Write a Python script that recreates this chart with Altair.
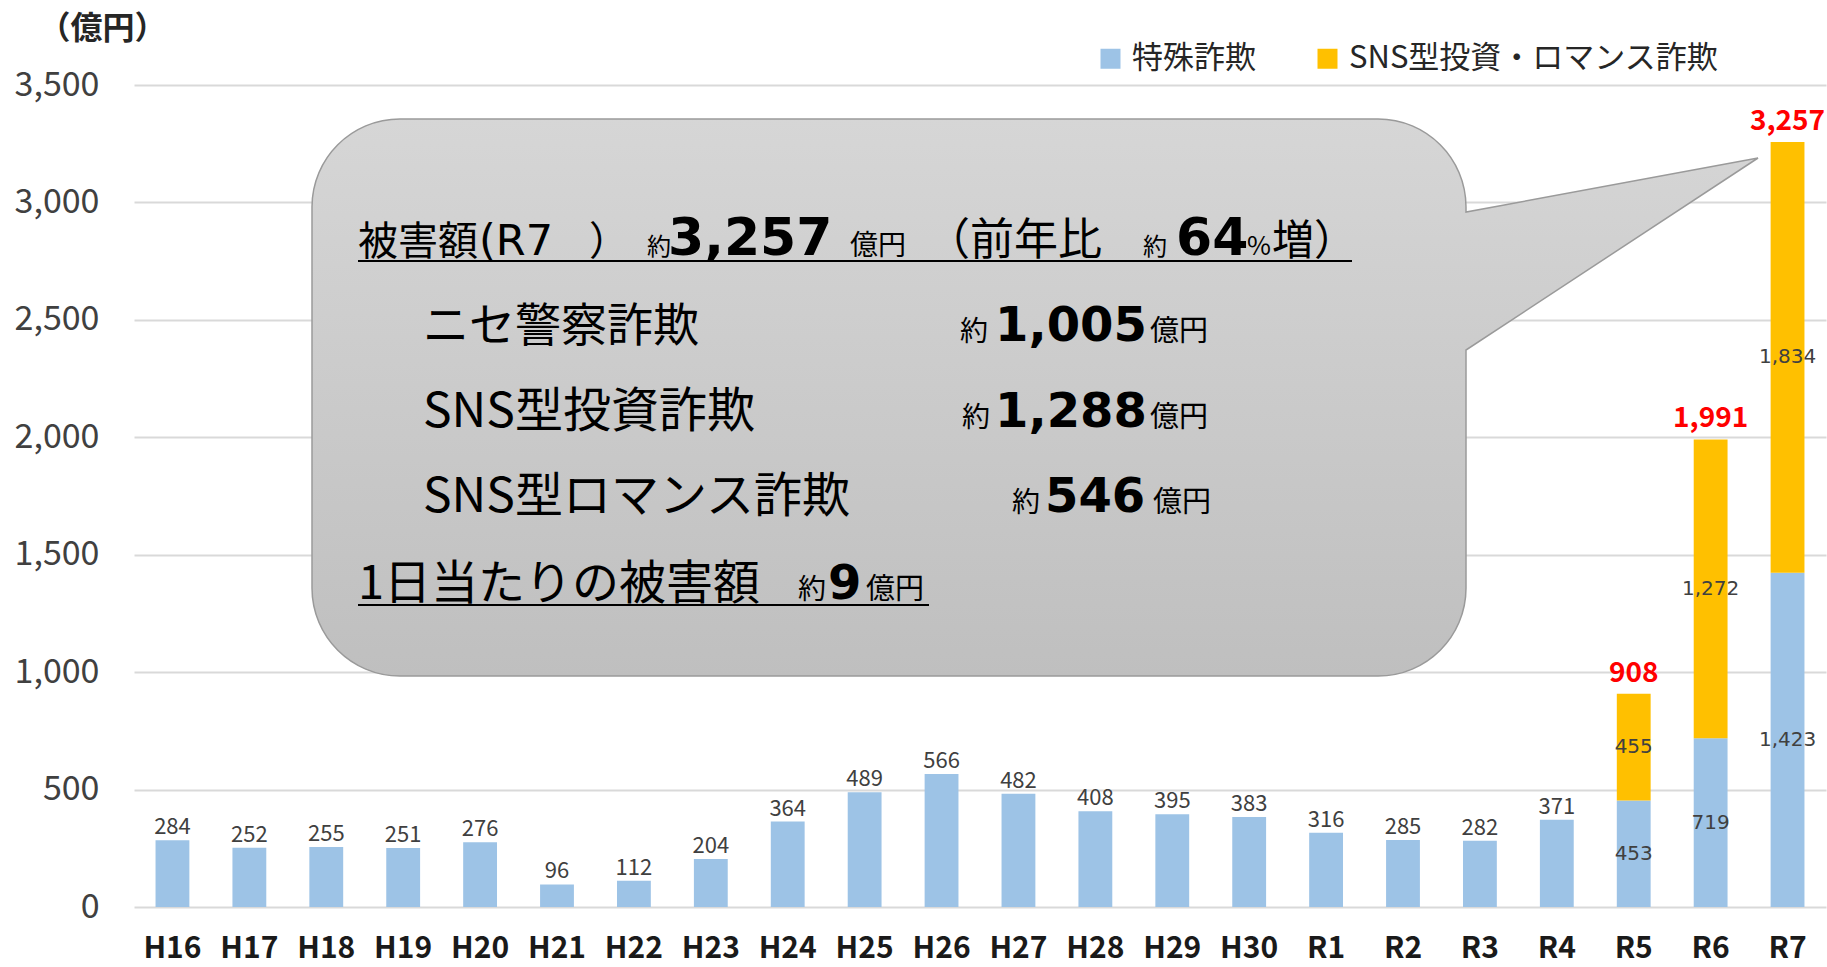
import altair as alt
import pandas as pd

# ---- data ----
years = ["H16", "H17", "H18", "H19", "H20", "H21", "H22", "H23", "H24", "H25",
         "H26", "H27", "H28", "H29", "H30", "R1", "R2", "R3", "R4", "R5", "R6", "R7"]
tokushu = [284, 252, 255, 251, 276, 96, 112, 204, 364, 489,
           566, 482, 408, 395, 383, 316, 285, 282, 371, 453, 719, 1423]
sns_years = ["R5", "R6", "R7"]
sns = [455, 1272, 1834]
series = ["特殊詐欺", "SNS型投資・ロマンス詐欺"]
series_colors = ["#9dc3e6", "#ffc000"]
y_ticks = [0, 500, 1000, 1500, 2000, 2500, 3000, 3500]

JP = "Noto Sans CJK JP"
DV = "DejaVu Sans"
L, T = 134, 85  # plot origin on page

# ---- tables built from the arrays ----
rows = [{"year": y, "type": series[0], "value": v, "ord": 0} for y, v in zip(years, tokushu)]
rows += [{"year": y, "type": series[1], "value": v, "ord": 1} for y, v in zip(sns_years, sns)]
bars_df = pd.DataFrame(rows)

blue_of = dict(zip(years, tokushu))
above_df = pd.DataFrame([{"year": y, "pos": v, "txt": f"{v:,}"}
                         for y, v in zip(years, tokushu) if y not in sns_years])
inner_blue_df = pd.DataFrame([{"year": y, "pos": blue_of[y] / 2, "txt": f"{blue_of[y]:,}"}
                              for y in sns_years])
inner_or_df = pd.DataFrame([{"year": y, "pos": blue_of[y] + o / 2, "txt": f"{o:,}"}
                            for y, o in zip(sns_years, sns)])
total_df = pd.DataFrame([{"year": y, "pos": blue_of[y] + o, "txt": f"{blue_of[y] + o:,}"}
                         for y, o in zip(sns_years, sns)])
one = pd.DataFrame({"k": [0]})

x_enc = alt.X("year:N", sort=years,
              scale=alt.Scale(paddingInner=0.56, paddingOuter=0.28),
              axis=alt.Axis(labelFontSize=30, labelFont=JP, labelFontWeight="bold",
                            labelColor="#1a1a1a", labelPadding=41, labelBaseline="middle",
                            ticks=False, tickSize=0, domain=False, labelAngle=0, grid=False),
              title=None)

y_axis = alt.Axis(values=y_ticks, format=",d", labelFontSize=34, labelFont=JP,
                  labelColor="#404040", labelPadding=35, ticks=False, tickSize=0,
                  domain=False, grid=True, gridColor="#d9d9d9", gridWidth=2,
                  title="（億円）", titleAngle=0, titleAlign="left", titleBaseline="middle",
                  titleX=-96, titleY=-57, titleFontSize=32, titleFont=JP,
                  titleFontWeight="bold", titleColor="#262626")
y_scale = alt.Scale(domain=[0, 3500], nice=False, zero=True)


def yq(field):
    return alt.Y(field, scale=y_scale, axis=y_axis, title="（億円）")


bars = alt.Chart(bars_df).mark_bar().encode(
    x=x_enc,
    y=alt.Y("value:Q", stack="zero", scale=y_scale, axis=y_axis, title="（億円）"),
    color=alt.Color("type:N", scale=alt.Scale(domain=series, range=series_colors),
                    legend=alt.Legend(orient="none", legendX=961, legendY=-42,
                                      direction="horizontal", title=None,
                                      symbolType="square", symbolSize=400,
                                      symbolStrokeWidth=0, labelFontSize=31,
                                      labelFont=JP, labelColor="#262626",
                                      columnPadding=56, labelOffset=6, labelLimit=0)),
    order=alt.Order("ord:Q", sort="ascending"),
)

above = alt.Chart(above_df).mark_text(baseline="alphabetic", dy=-6, fontSize=22,
                                      font=JP, color="#404040").encode(
    x=x_enc, y=yq("pos:Q"), text="txt:N")
inner_b = alt.Chart(inner_blue_df).mark_text(baseline="middle", fontSize=20,
                                             font=DV, color="#404040").encode(
    x=x_enc, y=yq("pos:Q"), text="txt:N")
inner_o = alt.Chart(inner_or_df).mark_text(baseline="middle", fontSize=20,
                                           font=DV, color="#404040").encode(
    x=x_enc, y=yq("pos:Q"), text="txt:N")
totals = alt.Chart(total_df).mark_text(baseline="alphabetic", dy=-12, fontSize=28,
                                       font=JP, fontWeight="bold", color="#ff0000").encode(
    x=x_enc, y=yq("pos:Q"), text="txt:N")

# ---- callout balloon (annotation shape, pixel path, size=4 -> 1:1 scale) ----
balloon_path = ("M266,34 L1244,34 A88,88 0 0 1 1332,122 L1332,127 L1624,73 "
                "L1332,265 L1332,503 A88,88 0 0 1 1244,591 L266,591 "
                "A88,88 0 0 1 178,503 L178,122 A88,88 0 0 1 266,34 Z")
grad = alt.Gradient(gradient="linear", x1=0, x2=0, y1=0, y2=1,
                    stops=[alt.GradientStop(color="#d6d6d6", offset=0),
                           alt.GradientStop(color="#bfbfbf", offset=1)])
balloon = alt.Chart(one).mark_point(shape=balloon_path, size=4, filled=True, fill=grad,
                                    stroke="#9a9a9a", strokeWidth=1.5, opacity=1,
                                    fillOpacity=1, strokeOpacity=1).encode(
    x=alt.value(0), y=alt.value(0))


def txt(s, px, py, size, font=JP, bold=False):
    return alt.Chart(one).mark_text(align="left", baseline="alphabetic", fontSize=size,
                                    font=font, fontWeight="bold" if bold else "normal",
                                    color="#000000", text=s).encode(
        x=alt.value(px - L), y=alt.value(py - T))


def uline(x1, x2, py):
    return alt.Chart(one).mark_rule(color="#000000", strokeWidth=2).encode(
        x=alt.value(x1 - L), x2=alt.value(x2 - L), y=alt.value(py - T))


notes = [
    # line 1
    txt("被害額", 358, 255, 40),
    txt("(R7", 479, 255, 43, font=DV),
    txt("）", 589, 255, 40),
    txt("約", 647, 255, 24),
    txt("3,257", 668, 255, 52, font=DV, bold=True),
    txt("億円", 850, 255, 28),
    txt("（前年比", 926, 255, 44),
    txt("約", 1143, 255, 24),
    txt("64", 1176, 255, 52, font=DV, bold=True),
    txt("%", 1247, 255, 26),
    txt("増）", 1272, 255, 42),
    uline(358, 1352, 261),
    # line 2
    txt("ニセ警察詐欺", 423, 341, 46),
    txt("約", 960, 341, 28),
    txt("1,005", 995, 341, 48, font=DV, bold=True),
    txt("億円", 1150, 341, 29),
    # line 3
    txt("SNS型投資詐欺", 423, 427, 48),
    txt("約", 962, 427, 28),
    txt("1,288", 995, 427, 48, font=DV, bold=True),
    txt("億円", 1150, 427, 29),
    # line 4
    txt("SNS型ロマンス詐欺", 423, 512, 48),
    txt("約", 1012, 512, 28),
    txt("546", 1045, 512, 48, font=DV, bold=True),
    txt("億円", 1153, 512, 29),
    # line 5
    txt("1日当たりの被害額", 358, 599, 47),
    txt("約", 798, 599, 28),
    txt("9", 828, 599, 48, font=DV, bold=True),
    txt("億円", 866, 599, 29),
    uline(358, 929, 605),
]

chart = alt.layer(bars, above, inner_b, inner_o, totals, balloon, *notes).properties(
    width=1692, height=822,
    autosize=alt.AutoSizeParams(type="none"),
    padding={"left": L, "top": T, "right": 1, "bottom": 60},
    background="#ffffff",
).configure_view(stroke=None)

chart.save("out.html", embed_options={"renderer": "svg", "actions": False})
